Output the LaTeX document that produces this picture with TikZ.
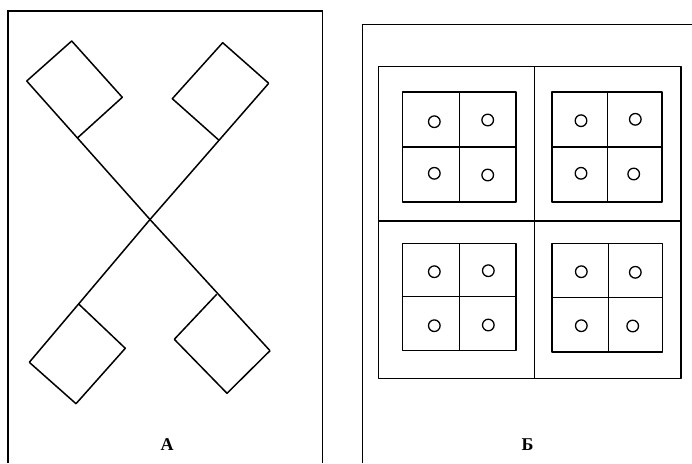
\documentclass[tikz,border=0pt]{standalone}
\usepackage{fontspec}
\setmainfont{Liberation Serif}
\usepackage{tikz}
\usetikzlibrary{positioning}

\tikzset{
  frame/.style={line width=1.1pt},
  part/.style={line width=1.5pt, line join=round},
  hole/.style={line width=1.3pt},
  caption/.style={font=\fontsize{18}{18}\selectfont\bfseries, inner sep=0pt}
}

\begin{document}
\begin{tikzpicture}[x=1pt,y=-1pt]
\useasboundingbox (0,0) rectangle (692,463);

% Panel A
\draw[frame] (8,463) -- (8,11) -- (322.5,11) -- (322.5,463);
\coordinate (cross) at (150,219.5);
\coordinate (outerTL) at (26.7,81);
\coordinate (outerTR) at (268.7,83.3);
\coordinate (outerBL) at (29.3,362.3);
\coordinate (outerBR) at (270,350.7);
\coordinate (baseTL) at (77.7,137.7);
\coordinate (baseTR) at (218.7,140);
\coordinate (baseBL) at (79,304.3);
\coordinate (baseBR) at (216.7,294.3);
% Poles
\draw[part] (outerTL) -- (cross) -- (outerBR);
\draw[part] (outerTR) -- (cross) -- (outerBL);
% Flags
\draw[part] (outerTL) -- (71.7,41) -- (122.3,97.3) -- (baseTL);
\draw[part] (outerTR) -- (222.7,42.7) -- (172.3,98.7) -- (baseTR);
\draw[part] (outerBL) -- (76,403.7) -- (125.3,348.3) -- (baseBL);
\draw[part] (outerBR) -- (227,393.3) -- (174.3,339.3) -- (baseBR);
\node[caption] (labelA) at (167,444.5) {А};

% Panel B
\draw[frame] (362.7,463) -- (362.7,24.5) -- (692,24.5);
\draw[part] (378.3,66.7) rectangle (681,378.3);
\draw[part] (534.7,66.7) -- (534.7,378.3);
\draw[part] (378.3,221) -- (681,221);
% Block 1
\draw[part] (402.7,92) rectangle (516,202);
\draw[part] (459.3,92) -- (459.3,202) (402.7,147) -- (516,147);
\draw[hole] (434.3,121.7) circle (5.8pt) (487.7,120) circle (5.8pt)
  (434.3,173.3) circle (5.8pt) (487.7,175) circle (5.8pt);
% Block 2
\draw[part] (552,92) rectangle (662,202);
\draw[part] (607.7,92) -- (607.7,202) (552,147) -- (662,147);
\draw[hole] (581,120.7) circle (5.8pt) (635.3,119.3) circle (5.8pt)
  (581,173.3) circle (5.8pt) (633.7,174) circle (5.8pt);
% Block 3
\draw[part] (402.7,243.3) rectangle (516,350.7);
\draw[part] (459.3,243.3) -- (459.3,350.7) (402.7,296.7) -- (516,296.7);
\draw[hole] (434.3,271.7) circle (5.8pt) (488.3,270.7) circle (5.8pt)
  (434.3,325.7) circle (5.8pt) (488.3,325) circle (5.8pt);
% Block 4
\draw[part] (552,243.3) rectangle (662.7,352);
\draw[part] (608.3,243.3) -- (608.3,352) (552,297.7) -- (662.7,297.7);
\draw[hole] (581.3,271.7) circle (5.8pt) (635.3,272.3) circle (5.8pt)
  (581.3,325.7) circle (5.8pt) (632.7,326) circle (5.8pt);
\node[caption] (labelB) at (527.5,444.5) {Б};

\end{tikzpicture}
\end{document}
